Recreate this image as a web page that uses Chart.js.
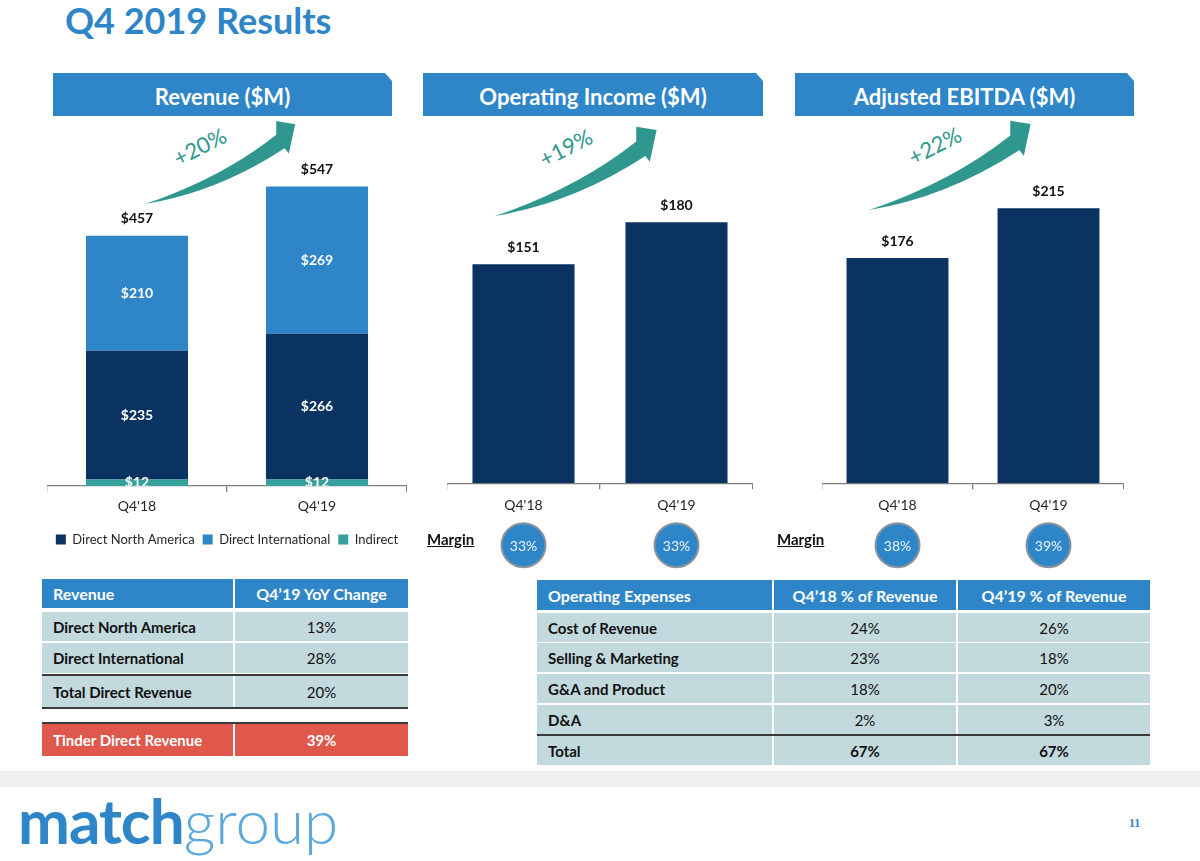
<!DOCTYPE html>
<html><head><meta charset="utf-8">
<script src="https://cdn.jsdelivr.net/npm/chart.js@4"></script>
<style>
body{margin:0;width:1200px;height:861px;position:relative;background:#fff;font-family:Lato,"Open Sans",sans-serif;overflow:hidden}
.abs{position:absolute}
.title{left:65px;top:-2px;font-size:36px;font-weight:700;color:#2E86C8}
.banner{height:43px;top:73px;background:#2E86C8;color:#fff;font-weight:700;font-size:22px;line-height:47px;text-align:center;clip-path:polygon(0 0,calc(100% - 7px) 0,100% 8px,100% 100%,0 100%)}
canvas{position:absolute}
.margin{font-weight:700;font-size:15px;text-decoration:underline;color:#111}
.tbl .row{position:absolute;left:0;right:0;display:flex}
.tbl .cell{box-sizing:border-box;display:flex;align-items:center;font-size:15px;color:#111}
.tbl .hdr .cell{background:#2E86C8;color:#fff;font-weight:700;font-size:16px}
.tbl .body .cell{background:#C2D9DD}
.tbl .lab{font-weight:700;padding-left:11px}
.tbl .val{justify-content:center}
.gap{margin-left:2px}
.line{position:absolute;left:0;right:0;height:2px;background:#3a3a3a}
.footer{left:0;top:771px;width:1200px;height:16px;background:#EFF0F0}
.logo{left:18px;top:780px;font-size:62px;letter-spacing:-1px;line-height:80px}
.logo b{color:#2E86C8;font-weight:700}
.logo span{color:#5CA8DC;font-weight:300;letter-spacing:0}
.pg{left:1129px;top:816px;font-size:12px;font-weight:700;color:#2E86C8;font-family:"Liberation Serif",serif}
</style></head><body>

<div class="abs title">Q4 2019 Results</div>
<div class="abs banner" style="left:53px;width:339px">Revenue ($M)</div>
<div class="abs banner" style="left:423px;width:340px">Operating Income ($M)</div>
<div class="abs banner" style="left:795px;width:339px">Adjusted EBITDA ($M)</div>

<svg class="abs" style="left:0;top:0" width="1200" height="260" id="arrows"></svg>

<canvas id="rev" width="360" height="424" style="left:47px;top:140px"></canvas>
<canvas id="oi" width="306" height="440" style="left:447px;top:140px"></canvas>
<canvas id="eb" width="302" height="440" style="left:822px;top:140px"></canvas>

<div class="abs margin" style="left:427px;top:530px">Margin</div>
<div class="abs margin" style="left:777px;top:530px">Margin</div>

<div class="abs tbl" id="revTable" style="left:42px;top:579px;width:366px;height:180px"></div>
<div class="abs tbl" id="opexTable" style="left:537px;top:580px;width:613px;height:186px"></div>

<div class="abs footer"></div>
<div class="abs logo"><b>match</b><span>group</span></div>
<div class="abs pg">11</div>

<script>
// ---------- data ----------
const categories = ["Q4'18", "Q4'19"];
const revNorthAmerica = [235, 266];
const revInternational = [210, 269];
const revIndirect = [12, 12];
const revTotals = [457, 547];
const opIncome = [151, 180];
const adjEbitda = [176, 215];
const opMargin = ["33%", "33%"];
const ebitdaMargin = ["38%", "39%"];
const growthLabels = ["+20%", "+19%", "+22%"];

const revTableHeader = ["Revenue", "Q4\u201919 YoY Change"];
const revTableRows = ["Direct North America", "Direct International", "Total Direct Revenue"];
const revTableValues = ["13%", "28%", "20%"];
const tinderRow = ["Tinder Direct Revenue", "39%"];

const opexHeader = ["Operating Expenses", "Q4\u201918 % of Revenue", "Q4\u201919 % of Revenue"];
const opexRows = ["Cost of Revenue", "Selling & Marketing", "G&A and Product", "D&A", "Total"];
const opexQ418 = ["24%", "23%", "18%", "2%", "67%"];
const opexQ419 = ["26%", "18%", "20%", "3%", "67%"];

// ---------- colours ----------
const NAVY = '#0A3362', BLUE = '#2E86C8', TEAL = '#36A09A', ARROW = '#2F978D';
const FONT = 'Lato, "Open Sans", sans-serif';

// ---------- plugins ----------
const barLabels = {
  id: 'barLabels',
  afterDatasetsDraw(chart, args, o) {
    const ctx = chart.ctx;
    ctx.save();
    ctx.textAlign = 'center';
    ctx.textBaseline = 'middle';
    ctx.font = 'bold 14px ' + FONT;
    if (o.inside) {
      const a = chart.chartArea;
      ctx.save();
      ctx.beginPath(); ctx.rect(a.left, a.top, a.right - a.left, a.bottom - a.top); ctx.clip();
      ctx.fillStyle = '#fff';
      chart.data.datasets.forEach((ds, di) => {
        chart.getDatasetMeta(di).data.forEach((bar, i) => {
          ctx.fillText('$' + ds.data[i], bar.x, (bar.y + bar.base) / 2);
        });
      });
      ctx.restore();
    }
    const last = chart.getDatasetMeta(chart.data.datasets.length - 1);
    ctx.fillStyle = '#111';
    last.data.forEach((bar, i) => {
      ctx.fillText('$' + o.totals[i], bar.x, bar.y - 17);
    });
    ctx.restore();
  }
};
const marginBubbles = {
  id: 'marginBubbles',
  afterDraw(chart, args, o) {
    if (!o.values) return;
    const ctx = chart.ctx, xs = chart.scales.x;
    const y = chart.chartArea.bottom + o.offset;
    ctx.save();
    o.values.forEach((v, i) => {
      const cx = xs.getPixelForValue(i);
      ctx.beginPath(); ctx.arc(cx, y, 22, 0, Math.PI * 2);
      ctx.fillStyle = BLUE; ctx.fill();
      ctx.lineWidth = 2; ctx.strokeStyle = '#8A939E'; ctx.stroke();
      ctx.fillStyle = '#EEF4FA'; ctx.font = '14px ' + FONT;
      ctx.textAlign = 'center'; ctx.textBaseline = 'middle';
      ctx.fillText(v, cx, y + 1);
    });
    ctx.restore();
  }
};

function xAxis(stacked, pad) {
  return {
    stacked,
    offset: true,
    grid: { display: true, drawOnChartArea: false, drawTicks: true, tickLength: 6, color: '#808080', lineWidth: 1.3, offset: true },
    border: { display: true, color: '#808080', width: 1.3 },
    ticks: { color: '#262626', font: { family: FONT, size: 14 }, padding: pad }
  };
}

// ---------- revenue ----------
new Chart(document.getElementById('rev'), {
  type: 'bar',
  data: {
    labels: categories,
    datasets: [
      { label: 'Indirect', data: revIndirect, backgroundColor: TEAL, barPercentage: 0.567, categoryPercentage: 1 },
      { label: 'Direct North America', data: revNorthAmerica, backgroundColor: NAVY, barPercentage: 0.567, categoryPercentage: 1 },
      { label: 'Direct International', data: revInternational, backgroundColor: BLUE, barPercentage: 0.567, categoryPercentage: 1 }
    ]
  },
  options: {
    responsive: false, animation: false, devicePixelRatio: 1,
    layout: { padding: { top: 0, bottom: 8 } },
    scales: { x: xAxis(true, 6), y: { stacked: true, display: false, min: 0, max: 632 } },
    plugins: {
      tooltip: { enabled: false },
      legend: {
        position: 'bottom',
        title: { display: true, text: ' ', font: { size: 1 }, padding: { top: 3, bottom: 0 } },
        labels: {
          boxWidth: 10, boxHeight: 10, padding: 8, color: '#262626',
          font: { family: FONT, size: 13 },
          sort: (a, b) => [1, 2, 0].indexOf(a.datasetIndex) - [1, 2, 0].indexOf(b.datasetIndex)
        }
      },
      barLabels: { inside: true, totals: revTotals }
    }
  },
  plugins: [barLabels]
});

// ---------- operating income ----------
new Chart(document.getElementById('oi'), {
  type: 'bar',
  data: { labels: categories, datasets: [{ label: 'Operating Income', data: opIncome, backgroundColor: NAVY, barPercentage: 0.667, categoryPercentage: 1 }] },
  options: {
    responsive: false, animation: false, devicePixelRatio: 1,
    layout: { padding: { top: 0, bottom: 58 } },
    scales: { x: xAxis(false, 8), y: { display: false, min: 0, max: 236.7 } },
    plugins: { tooltip: { enabled: false }, legend: { display: false },
      barLabels: { inside: false, totals: opIncome },
      marginBubbles: { values: opMargin, offset: 62 } }
  },
  plugins: [barLabels, marginBubbles]
});

// ---------- adjusted EBITDA ----------
new Chart(document.getElementById('eb'), {
  type: 'bar',
  data: { labels: categories, datasets: [{ label: 'Adjusted EBITDA', data: adjEbitda, backgroundColor: NAVY, barPercentage: 0.675, categoryPercentage: 1 }] },
  options: {
    responsive: false, animation: false, devicePixelRatio: 1,
    layout: { padding: { top: 0, bottom: 58 } },
    scales: { x: xAxis(false, 8), y: { display: false, min: 0, max: 268.3 } },
    plugins: { tooltip: { enabled: false }, legend: { display: false },
      barLabels: { inside: false, totals: adjEbitda },
      marginBubbles: { values: ebitdaMargin, offset: 62 } }
  },
  plugins: [barLabels, marginBubbles]
});

// ---------- growth arrows (decoration) ----------
(function () {
  const svg = document.getElementById('arrows');
  const tails = [[145, 204, 1.05], [495, 216, 1.13], [869, 210, 1.13]];
  const texts = [[201, 149], [567, 150], [936, 148]];
  const d = 'M0,0 Q69.5,-11.5 133,-53 L137,-48 L143,-76 L125,-79 L125,-66 Q73.5,-25 0,0 Z';
  let html = '';
  tails.forEach((t, i) => {
    html += `<path d="${d}" transform="translate(${t[0]},${t[1]}) scale(${t[2]})" fill="${ARROW}"/>`;
    html += `<text x="${texts[i][0]}" y="${texts[i][1]}" transform="rotate(-27 ${texts[i][0]} ${texts[i][1]})" fill="${ARROW}" font-family='Lato, sans-serif' font-size="22" text-anchor="middle" dominant-baseline="middle">${growthLabels[i]}</text>`;
  });
  svg.innerHTML = html;
})();

// ---------- tables ----------
function cell(txt, w, cls, extra) {
  return `<div class="cell ${cls}" style="width:${w}px;${extra || ''}">${txt}</div>`;
}
(function () {
  const t = document.getElementById('revTable');
  const w1 = 191, w2 = 173;
  let h = `<div class="row hdr" style="top:0;height:29px">${cell(revTableHeader[0], w1, 'lab')}${cell(revTableHeader[1], w2, 'val gap')}</div>`;
  const tops = [33, 64, 97], hs = [29, 30, 31];
  revTableRows.forEach((r, i) => {
    h += `<div class="row body" style="top:${tops[i]}px;height:${hs[i]}px">${cell(r, w1, 'lab')}${cell(revTableValues[i], w2, 'val gap')}</div>`;
  });
  h += `<div class="line" style="top:95px"></div><div class="line" style="top:128px"></div><div class="line" style="top:143px"></div>`;
  h += `<div class="row" style="top:145px;height:32px">${cell(tinderRow[0], w1, 'lab', 'background:#E0574C;color:#fff')}${cell(tinderRow[1], w2, 'val gap', 'background:#E0574C;color:#fff;font-weight:700')}</div>`;
  t.innerHTML = h;
})();
(function () {
  const t = document.getElementById('opexTable');
  const w = [235, 182, 192];
  let h = `<div class="row hdr" style="top:0;height:30px">${cell(opexHeader[0], w[0], 'lab')}${cell(opexHeader[1], w[1], 'val gap')}${cell(opexHeader[2], w[2], 'val gap')}</div>`;
  const tops = [33, 63, 94, 125, 156];
  opexRows.forEach((r, i) => {
    const bold = i === opexRows.length - 1 ? 'font-weight:700' : '';
    h += `<div class="row body" style="top:${tops[i]}px;height:29px">${cell(r, w[0], 'lab')}${cell(opexQ418[i], w[1], 'val gap', bold)}${cell(opexQ419[i], w[2], 'val gap', bold)}</div>`;
  });
  h += `<div class="line" style="top:154px"></div>`;
  t.innerHTML = h;
})();
</script>
</body></html>
